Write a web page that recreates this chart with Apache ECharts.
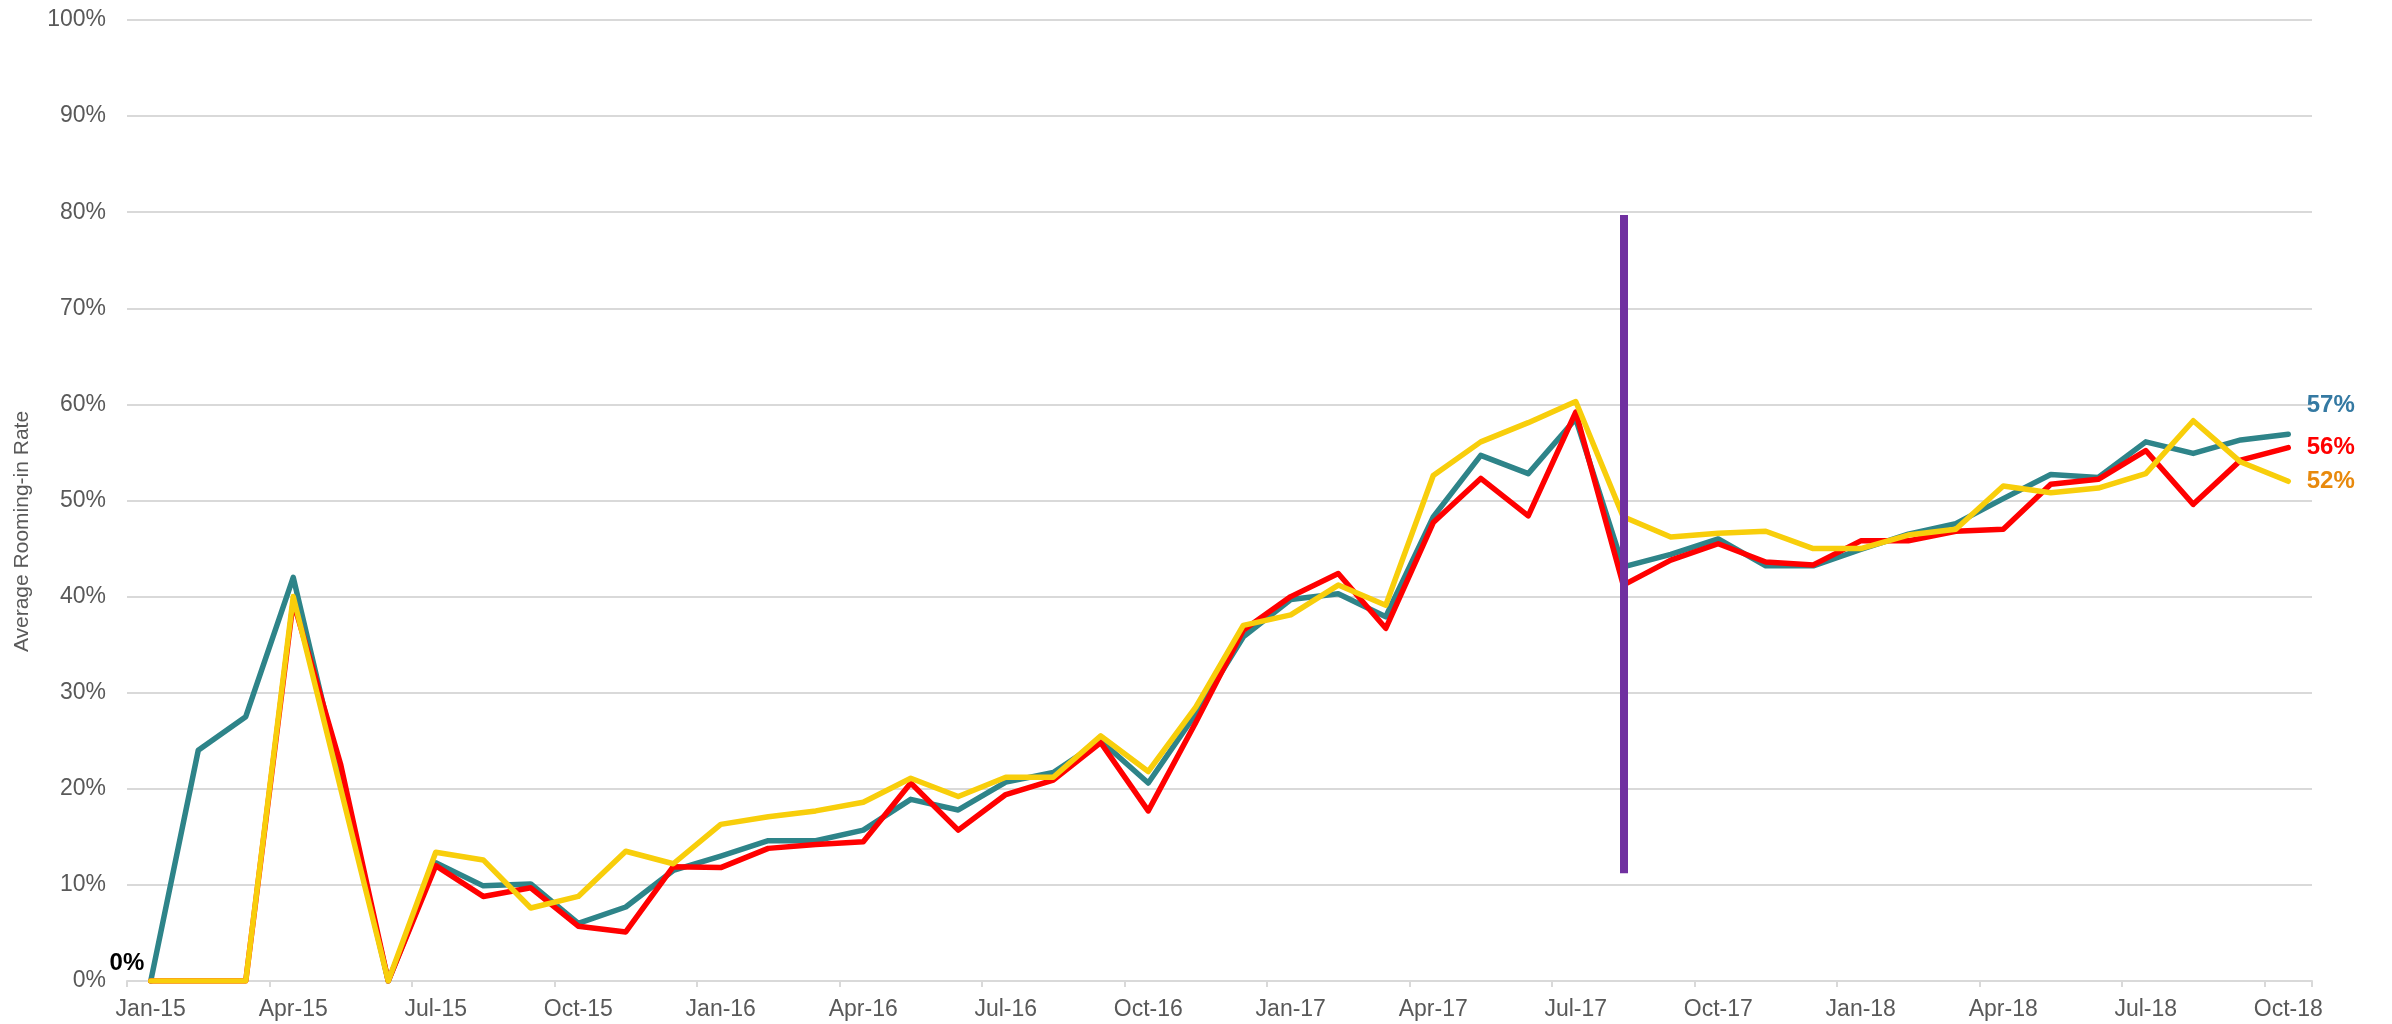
<!DOCTYPE html>
<html>
<head>
<meta charset="utf-8">
<script src="https://cdn.jsdelivr.net/npm/echarts@6/dist/echarts.min.js"></script>
<style>
html,body{margin:0;padding:0;background:#fff;}
#chart{width:2392px;height:1024px;}
</style>
</head>
<body>
<div id="chart"></div>
<script>
var months = ['Jan-15','Feb-15','Mar-15','Apr-15','May-15','Jun-15','Jul-15','Aug-15','Sep-15','Oct-15','Nov-15','Dec-15',
  'Jan-16','Feb-16','Mar-16','Apr-16','May-16','Jun-16','Jul-16','Aug-16','Sep-16','Oct-16','Nov-16','Dec-16',
  'Jan-17','Feb-17','Mar-17','Apr-17','May-17','Jun-17','Jul-17','Aug-17','Sep-17','Oct-17','Nov-17','Dec-17',
  'Jan-18','Feb-18','Mar-18','Apr-18','May-18','Jun-18','Jul-18','Aug-18','Sep-18','Oct-18'];

var tealValues = [0,24.0,27.5,42.0,21.0,0,12.3,9.9,10.1,6.0,7.7,11.5,
  13.0,14.6,14.6,15.7,18.9,17.8,20.7,21.7,25.0,20.6,27.8,35.8,
  39.7,40.3,37.9,48.3,54.7,52.8,58.5,43.1,44.4,46.0,43.2,43.2,
  44.9,46.5,47.6,50.2,52.7,52.4,56.1,54.9,56.3,56.9];

var redValues = [0,0,0,39.5,22.5,0,12.0,8.8,9.7,5.7,5.1,11.9,
  11.8,13.8,14.2,14.5,20.6,15.7,19.4,20.9,24.8,17.7,26.9,36.5,
  40.0,42.4,36.7,47.7,52.3,48.4,59.2,41.2,43.8,45.5,43.6,43.3,
  45.8,45.8,46.8,47.0,51.7,52.2,55.2,49.6,54.2,55.5];

var yellowValues = [0,0,0,40.0,20.0,0,13.4,12.6,7.6,8.8,13.5,12.2,
  16.3,17.1,17.7,18.6,21.1,19.2,21.2,21.2,25.5,21.8,28.5,37.0,
  38.1,41.2,39.1,52.6,56.1,58.1,60.3,48.3,46.2,46.6,46.8,45.0,
  45.0,46.4,47.0,51.5,50.8,51.3,52.8,58.3,54.0,52.0];

var endLabels = ['57%','56%','52%'];
var startLabel = '0%';
var yTicks = {min:0, max:100, interval:10};
var markerMonth = 'Aug-17';
var markerRange = [11.2, 79.7];

var FONT = 'Liberation Sans, Arial, sans-serif';

function withLabels(values, endText, endColor, endOffset, startText) {
  return values.map(function(v, i){
    if (i === values.length - 1) {
      return {value: v, label: {show: true, position: 'right', distance: 18, offset: endOffset,
        formatter: endText, color: endColor, fontSize: 24, fontWeight: 'bold', fontFamily: FONT}};
    }
    if (i === 0 && startText) {
      return {value: v, label: {show: true, position: 'left', distance: 6, offset: [0, -18],
        formatter: startText, color: '#000000', fontSize: 24, fontWeight: 'bold', fontFamily: FONT}};
    }
    return v;
  });
}

var chart = echarts.init(document.getElementById('chart'), null, {renderer: 'canvas'});
chart.setOption({
  animation: false,
  backgroundColor: '#ffffff',
  grid: {left: 127, right: 80, top: 20, bottom: 43, containLabel: false},
  xAxis: {
    type: 'category',
    data: months,
    boundaryGap: true,
    axisLine: {show: true, lineStyle: {color: '#D9D9D9', width: 2}},
    axisTick: {show: true, interval: 2, alignWithLabel: false, length: 6, lineStyle: {color: '#D9D9D9', width: 2}},
    axisLabel: {interval: 2, color: '#595959', fontSize: 23, fontFamily: FONT, margin: 17},
    splitLine: {show: false}
  },
  yAxis: {
    type: 'value',
    min: yTicks.min, max: yTicks.max, interval: yTicks.interval,
    name: 'Average Rooming-in Rate',
    nameLocation: 'middle',
    nameGap: 94,
    nameTextStyle: {color: '#595959', fontSize: 21, fontFamily: FONT, padding: [0, 62, 0, 0]},
    axisLine: {show: false},
    axisTick: {show: false},
    axisLabel: {formatter: '{value}%', color: '#595959', fontSize: 23, fontFamily: FONT, margin: 21},
    splitLine: {show: true, lineStyle: {color: '#D9D9D9', width: 2}}
  },
  series: [
    {
      name: 'Teal', type: 'line', data: withLabels(tealValues, endLabels[0], '#3479A2', [0, -29]),
      showSymbol: true, symbol: 'circle', symbolSize: 1, itemStyle: {color: '#2E8489'},
      lineStyle: {color: '#2E8489', width: 5.5, join: 'round', cap: 'round'}, z: 2,
      markLine: {
        silent: true, symbol: ['none','none'], label: {show: false},
        lineStyle: {color: '#7030A0', width: 8, type: 'solid'},
        data: [[{coord: [markerMonth, markerRange[0]]}, {coord: [markerMonth, markerRange[1]]}]]
      }
    },
    {
      name: 'Red', type: 'line', data: withLabels(redValues, endLabels[1], '#FF0000', [0, 0]),
      showSymbol: true, symbol: 'circle', symbolSize: 1, itemStyle: {color: '#FF0000'},
      lineStyle: {color: '#FF0000', width: 5.5, join: 'round', cap: 'round'}, z: 3
    },
    {
      name: 'Yellow', type: 'line', data: withLabels(yellowValues, endLabels[2], '#E8890C', [0, 0], startLabel),
      showSymbol: true, symbol: 'circle', symbolSize: 1, itemStyle: {color: '#F8CE0B'},
      lineStyle: {color: '#F8CE0B', width: 5.5, join: 'round', cap: 'round'}, z: 4
    }
  ]
});
</script>
</body>
</html>
